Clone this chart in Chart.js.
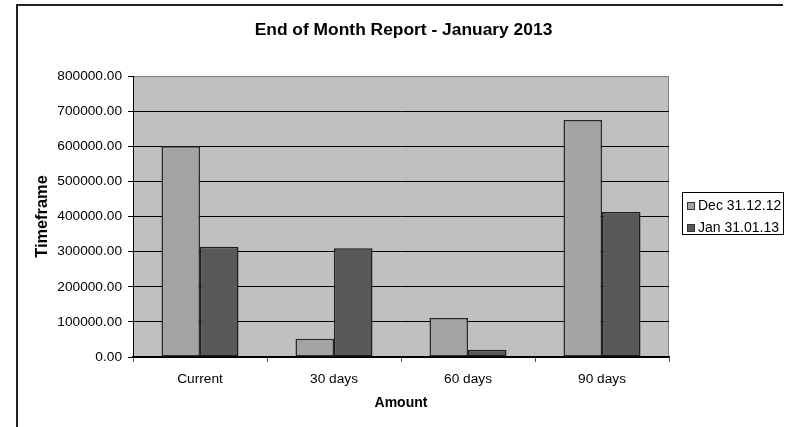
<!DOCTYPE html>
<html>
<head>
<meta charset="utf-8">
<script src="https://cdn.jsdelivr.net/npm/chart.js@4"></script>
<style>
  html, body { margin: 0; padding: 0; background: #fff; }
  #wrap { position: relative; width: 787px; height: 427px; }
</style>
</head>
<body>
<div id="wrap"><canvas id="c" width="787" height="427"></canvas></div>
<script>
const categories = ['Current', '30 days', '60 days', '90 days'];
const seriesNames = ['Dec 31.12.12', 'Jan 31.01.13'];
const decValues = [600000, 52000, 111000, 675000];
const janValues = [314000, 310000, 21000, 413000];
const yTicks = [0, 100000, 200000, 300000, 400000, 500000, 600000, 700000, 800000];
const titleText = 'End of Month Report - January 2013';
const xTitle = 'Amount';
const yTitle = 'Timeframe';

const FONT = "'Liberation Sans', Arial, sans-serif";
const PLOT_BG = '#C0C0C0';

const framePlugin = {
  id: 'frame',
  beforeDraw(chart) {
    const { ctx, chartArea: a } = chart;
    ctx.save();
    ctx.strokeStyle = '#222';
    ctx.lineWidth = 2;
    ctx.beginPath();
    ctx.moveTo(17, 427);
    ctx.lineTo(17, 5);
    ctx.lineTo(783, 5);
    ctx.stroke();
    ctx.fillStyle = PLOT_BG;
    ctx.fillRect(a.left, a.top, a.right - a.left, a.bottom - a.top);
    ctx.strokeStyle = '#808080';
    ctx.lineWidth = 1;
    ctx.strokeRect(a.left + 0.5, a.top + 0.5, a.right - a.left - 1, a.bottom - a.top);
    ctx.restore();
  },
  afterDraw(chart) {
    const { ctx } = chart;
    ctx.save();
    const bx = 682, by = 192, bw = 101, bh = 42;
    ctx.fillStyle = '#fff';
    ctx.fillRect(bx, by, bw, bh);
    ctx.strokeStyle = '#000';
    ctx.lineWidth = 1;
    ctx.strokeRect(bx + 0.5, by + 0.5, bw, bh);
    ctx.font = '14px ' + FONT;
    ctx.textBaseline = 'middle';
    ctx.textAlign = 'left';
    chart.data.datasets.forEach((ds, i) => {
      const cy = by + 14 + i * 22;
      ctx.fillStyle = ds.backgroundColor;
      ctx.fillRect(687.5, cy - 3.5, 7, 7);
      ctx.strokeStyle = '#333';
      ctx.strokeRect(687.5, cy - 3.5, 7, 7);
      ctx.fillStyle = '#000';
      ctx.fillText(ds.label, 698, cy);
    });
    ctx.restore();
  }
};

new Chart(document.getElementById('c'), {
  type: 'bar',
  data: {
    labels: categories,
    datasets: [
      { label: seriesNames[0], data: decValues, backgroundColor: '#A4A4A4', borderColor: '#2a2a2a', borderWidth: 1.5, borderSkipped: false },
      { label: seriesNames[1], data: janValues, backgroundColor: '#585858', borderColor: '#1e1e1e', borderWidth: 1.5, borderSkipped: false }
    ]
  },
  options: {
    responsive: false,
    animation: false,
    devicePixelRatio: 1,
    layout: { padding: { left: 20, right: 0, top: 0, bottom: 0 } },
    datasets: { bar: { categoryPercentage: 0.575, barPercentage: 1 } },
    plugins: {
      legend: { display: false },
      tooltip: { enabled: false },
      title: {
        display: true,
        text: titleText,
        color: '#000',
        font: { family: FONT, size: 17.4, weight: 'bold' },
        padding: { top: 20, bottom: 35.2 }
      }
    },
    scales: {
      x: {
        afterFit(s) { s.height = 70; },
        grid: { display: true, drawOnChartArea: false, drawTicks: true, tickLength: 5, tickColor: '#555', offset: true },
        border: { display: true, color: '#000', width: 1.5 },
        ticks: { color: '#000', font: { family: FONT, size: 13.7 }, padding: 9, maxRotation: 0 },
        title: { display: true, text: xTitle, color: '#000', font: { family: FONT, size: 14, weight: 'bold' }, padding: { top: 0, bottom: 15 } }
      },
      y: {
        min: 0,
        max: 800000,
        afterFit(s) { s.width = 113; },
        afterBuildTicks(s) { s.ticks = yTicks.map(v => ({ value: v })); },
        grid: {
          drawTicks: true, tickLength: 5, tickColor: '#000',
          color: ctx => (ctx.tick && ctx.tick.value === 800000) ? '#808080' : '#000',
          lineWidth: 1
        },
        border: { display: true, color: '#000', width: 1 },
        ticks: { color: '#000', font: { family: FONT, size: 13.7 }, padding: 6, callback: v => Number(v).toFixed(2) },
        title: { display: true, text: yTitle, color: '#000', font: { family: FONT, size: 16.4, weight: 'bold' }, padding: { top: 13, bottom: 0 } }
      },
      yRight: {
        position: 'right',
        display: true,
        afterFit(s) { s.width = 118; },
        grid: { display: false, drawOnChartArea: false },
        border: { display: false },
        ticks: { display: false }
      }
    }
  },
  plugins: [framePlugin]
});
</script>
</body>
</html>
